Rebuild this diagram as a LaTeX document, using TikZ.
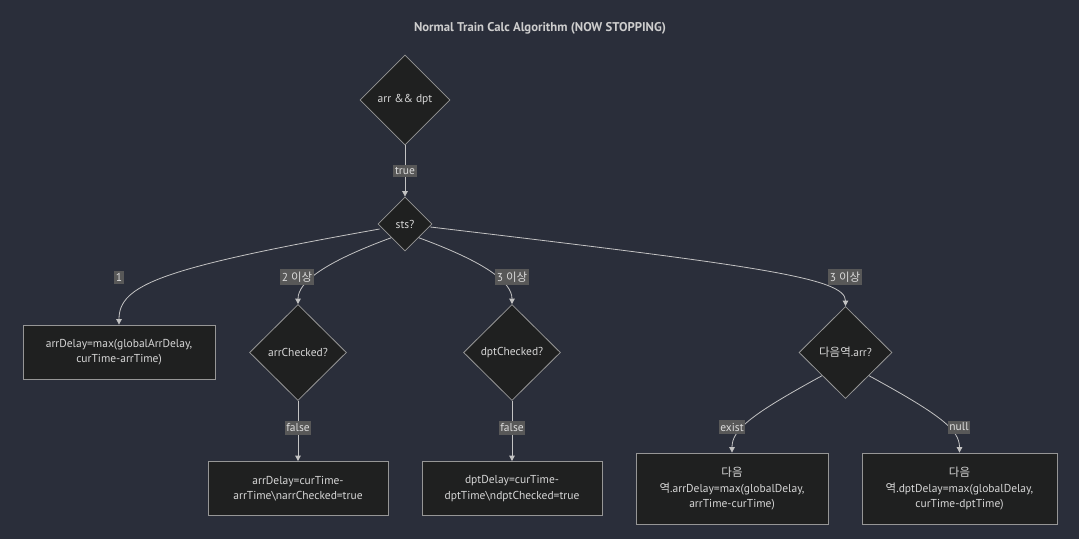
\documentclass[tikz,border=0pt]{standalone}
\usepackage{fontspec}
\setmainfont{PT Sans}
\newfontfamily\kr{Noto Sans CJK KR}
\usetikzlibrary{shapes.geometric,arrows.meta}
\definecolor{bg}{RGB}{42,46,58}
\definecolor{nodefill}{RGB}{31,32,32}
\definecolor{nodeborder}{RGB}{150,150,150}
\definecolor{nodetext}{RGB}{215,215,215}
\definecolor{edgecol}{RGB}{195,195,195}
\definecolor{lblbg}{RGB}{88,88,88}
\definecolor{lbltext}{RGB}{220,220,220}
\definecolor{titlecol}{RGB}{205,205,205}
\begin{document}
\begin{tikzpicture}[x=1pt,y=-1pt,
  txt/.style={font=\fontsize{11.5}{15.5}\selectfont},
  dec/.style={diamond, draw=nodeborder, fill=nodefill, inner sep=0pt, line width=0.8pt, text=nodetext, txt},
  proc/.style={rectangle, draw=nodeborder, fill=nodefill, inner sep=0pt, line width=0.8pt, text=nodetext, align=center, txt},
  edge/.style={draw=edgecol, line width=0.8pt, -{Triangle[length=5.5pt,width=5.5pt]}},
  lbl/.style={fill=lblbg, text=lbltext, inner xsep=1.6pt, inner ysep=2.4pt, txt}
]
\fill[bg] (0,0) rectangle (1079,539);
\useasboundingbox (0,0) rectangle (1079,539);

\node[text=titlecol, font=\fontsize{12.7}{15}\selectfont\bfseries] (title) at (540,28) {Normal Train Calc Algorithm (NOW STOPPING)};

\node[dec, minimum width=90pt, minimum height=90pt] (d1) at (405,100) {arr \&\& dpt};
\node[dec, minimum width=54pt, minimum height=54pt] (sts) at (405,224) {sts?};

\node[proc, minimum width=192pt, minimum height=54pt] (b1) at (119,352) {arrDelay=max(globalArrDelay,\\curTime-arrTime)};
\node[dec, minimum width=97pt, minimum height=96pt] (ac) at (298,352.5) {arrChecked?};
\node[dec, minimum width=97pt, minimum height=96pt] (dc) at (512,352.5) {dptChecked?};
\node[dec, minimum width=93pt, minimum height=92pt] (nx) at (845.5,352.5) {{\kr 다음역}.arr?};

\node[proc, minimum width=180pt, minimum height=54pt] (ba) at (298,488.5) {arrDelay=curTime-\\arrTime\textbackslash narrChecked=true};
\node[proc, minimum width=180pt, minimum height=54pt] (bd) at (512,488.5) {dptDelay=curTime-\\dptTime\textbackslash ndptChecked=true};
\node[proc, minimum width=192pt, minimum height=71pt] (bna) at (732,488.5) {{\kr 다음}\\{\kr 역}.arrDelay=max(globalDelay,\\arrTime-curTime)};
\node[proc, minimum width=195pt, minimum height=71pt] (bnd) at (959.5,488.5) {{\kr 다음}\\{\kr 역}.dptDelay=max(globalDelay,\\curTime-dptTime)};

% edges
\draw[edge] (d1.south) -- (sts.north);
\draw[edge] (sts.west) ++(2,5) .. controls (160,268) and (119,285) .. (b1.north);
\draw[edge] (sts.south west) .. controls (325,262) and (298,282) .. (ac.north);
\draw[edge] (sts.south east) .. controls (485,262) and (512,282) .. (dc.north);
\draw[edge] (sts.east) ++(-2,3) .. controls (760,266) and (845.5,278) .. (nx.north);
\draw[edge] (ac.south) -- (ba.north);
\draw[edge] (dc.south) -- (bd.north);
\draw[edge] (nx.south west) .. controls (750,415) and (732,430) .. (bna.north);
\draw[edge] (nx.south east) .. controls (941,415) and (959.5,430) .. (bnd.north);

% edge labels
\node[lbl] (l0) at (405,171) {true};
\node[lbl] (l1) at (119,277) {1};
\node[lbl] (l2) at (297,277) {2 {\kr 이상}};
\node[lbl] (l3) at (512,277) {3 {\kr 이상}};
\node[lbl] (l4) at (845,277) {3 {\kr 이상}};
\node[lbl] (l5) at (298,428) {false};
\node[lbl] (l6) at (512,428) {false};
\node[lbl] (l7) at (732,427) {exist};
\node[lbl] (l8) at (959,427) {null};
\end{tikzpicture}
\end{document}
